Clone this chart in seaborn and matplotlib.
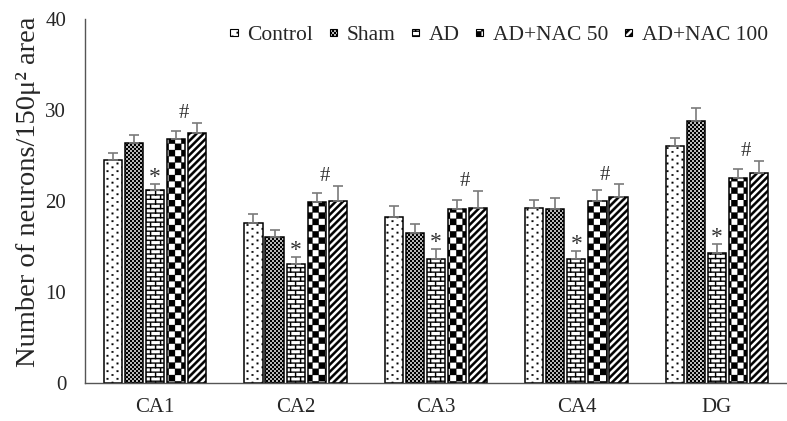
import warnings
warnings.filterwarnings("ignore")
import numpy as np
import pandas as pd
import matplotlib
matplotlib.use("Agg")
import matplotlib.pyplot as plt
import matplotlib.hatch as mhatch
from matplotlib.path import Path
from matplotlib.patches import Patch
from matplotlib.ticker import FixedLocator
import seaborn as sns

# ---------------- data ----------------
regions = ["CA1", "CA2", "CA3", "CA4", "DG"]
groups = ["Control", "Sham", "AD", "AD+NAC 50", "AD+NAC 100"]
control = [24.5, 17.6, 18.2, 19.2, 26.0]
control_err = [0.8, 0.9, 1.2, 0.85, 0.9]
sham = [26.3, 16.0, 16.4, 19.1, 28.8]
sham_err = [0.9, 0.8, 1.0, 1.2, 1.4]
ad = [21.2, 13.0, 13.6, 13.6, 14.2]
ad_err = [0.65, 0.85, 1.1, 0.9, 1.0]
nac50 = [26.8, 19.9, 19.1, 20.0, 22.5]
nac50_err = [0.9, 0.95, 1.0, 1.2, 1.0]
nac100 = [27.5, 20.0, 19.2, 20.4, 23.1]
nac100_err = [1.1, 1.65, 1.9, 1.4, 1.3]
star_group = "AD"          # '*' marks
hash_group = "AD+NAC 50"   # '#' marks
y_ticks = [0, 10, 20, 30, 40]
y_label = "Number of neurons/150μ² area"

values = [control, sham, ad, nac50, nac100]
errors = [control_err, sham_err, ad_err, nac50_err, nac100_err]

# ---------------- custom hatch patterns ----------------
class _PolyHatch(mhatch.HatchPatternBase):
    char = None

    def __init__(self, hatch, density):
        self.polys = self.build() if (hatch and self.char in hatch) else []
        self.num_vertices = sum(len(p) + 1 for p in self.polys)

    def build(self):
        return []

    def set_vertices_and_codes(self, vertices, codes):
        i = 0
        for p in self.polys:
            k = len(p)
            vertices[i:i + k] = p
            vertices[i + k] = p[0]
            codes[i] = Path.MOVETO
            codes[i + 1:i + k] = Path.LINETO
            codes[i + k] = Path.CLOSEPOLY
            i += k + 1


def _rect(x0, y0, x1, y1):
    return np.array([[x0, y0], [x1, y0], [x1, y1], [x0, y1]])


class DotHatch(_PolyHatch):
    char = "d"

    def build(self):
        nx, ny, s = 10, 13, 0.016
        out = []
        for i in range(nx):
            for j in range(ny):
                for fx, fy in ((0.25, 0.25), (0.75, 0.75)):
                    cx = (i + fx) / nx
                    cy = (j + fy) / ny
                    out.append(_rect(cx - s / 2, cy - s / 2, cx + s / 2, cy + s / 2))
        return out


class FineCheck(_PolyHatch):
    char = "k"

    def build(self):
        n = 50
        out = []
        for i in range(n):
            for j in range(n):
                if (i + j) % 2 == 0:
                    out.append(_rect(i / n, j / n, (i + 1) / n, (j + 1) / n))
        return out


class BigCheck(_PolyHatch):
    char = "c"

    def build(self):
        n = 16
        out = []
        for i in range(n):
            for j in range(n):
                if (i + j) % 2 == 0:
                    out.append(_rect(i / n, j / n, (i + 1) / n, (j + 1) / n))
        return out


class BrickHatch(_PolyHatch):
    char = "b"

    def build(self):
        nr, nb, t = 22, 10, 0.011
        out = []
        for r in range(nr):
            y = r / nr
            out.append(_rect(0, y, 1, y + t))
            off = 0.5 if r % 2 else 0.0
            for b in range(nb + 1):
                x = (b + off) / nb
                out.append(_rect(x, y, x + t, y + 1 / nr))
        return out


class StripeHatch(_PolyHatch):
    char = "s"

    def build(self):
        n, w = 14, 0.45
        out = []
        for k in range(-n, n + 1):
            c = k / n
            ww = w / n
            out.append(np.array([[c, 0], [c + ww, 0], [c + ww + 1, 1], [c + 1, 1]]))
        return out


mhatch._hatch_types.extend([DotHatch, FineCheck, BigCheck, BrickHatch, StripeHatch])
hatches = ["d", "k", "b", "c", "s"]

# ---------------- style ----------------
sns.set_style("white")
plt.rcParams["font.family"] = ["Liberation Serif", "DejaVu Serif"]
plt.rcParams["hatch.linewidth"] = 0.2
plt.rcParams["hatch.color"] = "black"

df = pd.DataFrame(
    [(r, g, values[gi][ri]) for gi, g in enumerate(groups) for ri, r in enumerate(regions)],
    columns=["region", "group", "value"],
)

fig = plt.figure(figsize=(7.87, 4.21), dpi=100)
ax = fig.add_axes([85 / 787, 1 - 382.5 / 421, (787 - 85) / 787, (382.5 - 19) / 421])

sns.barplot(
    data=df, x="region", y="value", hue="group", order=regions, hue_order=groups,
    palette=["white"] * len(groups), edgecolor="black", linewidth=1.1,
    width=0.75, gap=0.14, errorbar=None, ax=ax, legend=False,
)
bar_conts = list(ax.containers)

for gi, cont in enumerate(bar_conts):
    xs, tops = [], []
    for p in cont.patches:
        p.set_hatch(hatches[gi])
        p.set_hatch_linewidth(0.2)
        xs.append(p.get_x() + p.get_width() / 2)
        tops.append(p.get_height())
    ax.errorbar(xs, tops, yerr=[np.zeros(len(xs)), errors[gi]], fmt="none",
                ecolor="#7a7a7a", elinewidth=1.2, capsize=3.4, capthick=1.2, zorder=1)

# significance marks
si = groups.index(star_group)
hi = groups.index(hash_group)
for ri in range(len(regions)):
    ps = bar_conts[si].patches[ri]
    xs_ = ps.get_x() + ps.get_width() / 2
    ytop = values[si][ri] + errors[si][ri]
    ax.text(xs_, ytop - 0.45, "*", ha="center", va="bottom", fontsize=17, color="#333333")
    p1 = bar_conts[hi].patches[ri]
    p2 = bar_conts[hi + 1].patches[ri]
    xh = (p1.get_x() + p1.get_width() / 2 + p2.get_x() + p2.get_width() / 2) / 2 - 0.02
    yh = max(values[hi][ri] + errors[hi][ri], values[hi + 1][ri] + errors[hi + 1][ri])
    ax.text(xh, yh - 0.05, "#", ha="center", va="bottom", fontsize=15, color="#333333")

# axes
ax.set_xlim(-0.5, len(regions) - 0.5)
ax.set_ylim(0, 40)
ax.set_yticks(y_ticks)
ax.set_xlabel("")
ax.set_ylabel(y_label, fontsize=20.5)
ax.yaxis.set_label_coords(-0.062, 0.524)
ax.xaxis.set_minor_locator(FixedLocator(np.arange(-0.5, len(regions), 1.0)))
ax.tick_params(axis="x", which="major", length=0, labelsize=15, pad=11)
ax.tick_params(axis="x", which="minor", length=6, width=1, color="#555555", direction="out")
ax.tick_params(axis="y", length=4.5, width=1, color="#555555", direction="out", labelsize=15, pad=9)
for s in ["top", "right"]:
    ax.spines[s].set_visible(False)
for s in ["left", "bottom"]:
    ax.spines[s].set_color("#555555")
    ax.spines[s].set_linewidth(1.0)

handles = [Patch(facecolor="white", edgecolor="black", hatch=h, linewidth=0.8, label=g)
           for h, g in zip(hatches, groups)]
for h in handles:
    h.set_hatch_linewidth(0.2)
ax.legend(handles=handles, loc="center right", bbox_to_anchor=((768 - 85) / 702, (382.5 - 36) / 363.5),
          ncol=5, frameon=False, fontsize=15.5, handlelength=0.33, handleheight=0.13,
          handletextpad=0.45, columnspacing=0.77, borderaxespad=0, borderpad=0)

fig.savefig("out.png", dpi=100)
